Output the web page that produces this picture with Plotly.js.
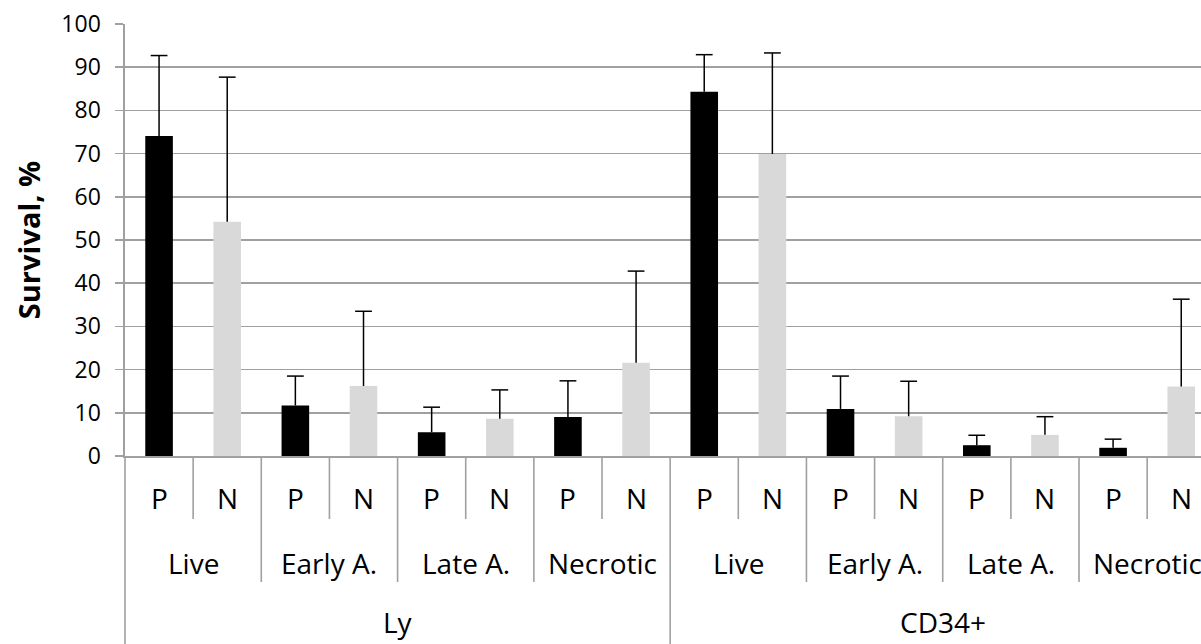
<!DOCTYPE html>
<html><head><meta charset="utf-8">
<script src="https://cdn.plot.ly/plotly-3.0.1.min.js"></script>
<style>html,body{margin:0;padding:0;background:#fff}#chart{width:1201px;height:644px}</style>
</head><body><div id="chart"></div>
<script>
// ---- data ----
const groups = ['Ly', 'CD34+'];
const states = ['Live', 'Early A.', 'Late A.', 'Necrotic'];
const markers = ['P', 'N'];
const pValues = [74.1, 11.7, 5.5, 9.0, 84.3, 10.9, 2.5, 1.9];
const pErrors = [18.6, 6.8, 5.8, 8.4, 8.6, 7.6, 2.3, 2.0];
const nValues = [54.2, 16.2, 8.6, 21.6, 69.9, 9.2, 4.9, 16.1];
const nErrors = [33.5, 17.3, 6.7, 21.2, 23.4, 8.1, 4.2, 20.2];

// ---- layout helpers ----
const W = 1201, H = 644, L = 125, T = 24, B = 188;
const plotH = H - T - B;
const py = pix => (H - B - pix) / plotH;     // pixel row -> paper y
const xMin = -0.5, xMax = 15.29;
const FONT = 'Open Sans, Lato, sans-serif';
const GRID = '#a0a0a0';
const LW = 1.6;

const pX = pValues.map((_, i) => 2 * i);
const nX = nValues.map((_, i) => 2 * i + 1);
const zeros = pValues.map(() => 0);

const errStyle = (arr) => ({type: 'data', symmetric: false, array: arr, arrayminus: zeros,
  width: 0, thickness: 1.5, color: '#000', visible: true});

const traces = [
  {type: 'bar', name: 'P', x: pX, y: pValues, width: 0.405,
   marker: {color: '#000000', line: {width: 0}}, error_y: errStyle(pErrors), hoverinfo: 'y'},
  {type: 'bar', name: 'N', x: nX, y: nValues, width: 0.405,
   marker: {color: '#d9d9d9', line: {width: 0}}, error_y: errStyle(nErrors), hoverinfo: 'y'},
  {type: 'scatter', mode: 'markers', name: 'caps',
   x: pX.concat(nX),
   y: pValues.map((v, i) => v + pErrors[i]).concat(nValues.map((v, i) => v + nErrors[i])),
   marker: {symbol: 'line-ew', size: 12, line: {width: 1.5, color: '#000'}},
   hoverinfo: 'skip', cliponaxis: false}
];

// ---- multi-level category axis drawn with shapes + annotations ----
const shapes = [];
const nCat = markers.length * states.length * groups.length;
for (let k = 0; k <= nCat; k++) {
  const xv = k - 0.5;
  if (xv > xMax) continue;
  let bottom;
  if (k % 8 === 0) bottom = H;
  else if (k % 2 === 0) bottom = 582;
  else bottom = 519;
  if (k === 0) {
    shapes.push({type: 'line', xref: 'paper', yref: 'paper', x0: 0, x1: 0, y0: 0, y1: py(bottom),
      line: {color: GRID, width: LW}});
  } else {
    shapes.push({type: 'line', xref: 'x', yref: 'paper', x0: xv, x1: xv, y0: 0, y1: py(bottom),
      line: {color: GRID, width: LW}});
  }
}

const annotations = [];
const labFont = {family: FONT, size: 28, color: '#000'};
for (let i = 0; i < nCat; i++) {
  annotations.push({xref: 'x', yref: 'paper', x: i, y: py(498), text: markers[i % 2],
    showarrow: false, xanchor: 'center', yanchor: 'middle', font: labFont});
}
for (let j = 0; j < states.length * groups.length; j++) {
  annotations.push({xref: 'x', yref: 'paper', x: 2 * j + 0.5, y: py(563), text: states[j % 4],
    showarrow: false, xanchor: 'center', yanchor: 'middle', font: labFont});
}
groups.forEach((g, gi) => {
  annotations.push({xref: 'x', yref: 'paper', x: gi * 8 + 3.5, y: py(643), text: g,
    showarrow: false, xanchor: 'center', yanchor: 'bottom', font: labFont});
});

const layout = {
  width: W, height: H,
  margin: {l: L, r: 0, t: T, b: B, pad: 0},
  paper_bgcolor: '#fff', plot_bgcolor: '#fff',
  showlegend: false,
  barmode: 'overlay',
  xaxis: {range: [xMin, xMax], showticklabels: false, showgrid: false, zeroline: false,
          showline: true, linecolor: GRID, linewidth: LW, ticks: '', fixedrange: true},
  yaxis: {range: [0, 100], dtick: 10, tick0: 0, showgrid: true, gridcolor: GRID, gridwidth: LW,
          zeroline: false, showline: true, linecolor: GRID, linewidth: LW,
          ticks: 'outside', ticklen: 8, tickcolor: GRID, tickwidth: LW, ticklabelstandoff: 10,
          tickfont: {family: FONT, size: 23, color: '#000'},
          title: {text: '<b>Survival, %</b>', standoff: 12, font: {family: FONT, size: 29, color: '#000'}},
          fixedrange: true},
  shapes: shapes,
  annotations: annotations
};

Plotly.newPlot('chart', traces, layout, {displayModeBar: false, staticPlot: true});
</script>
</body></html>
